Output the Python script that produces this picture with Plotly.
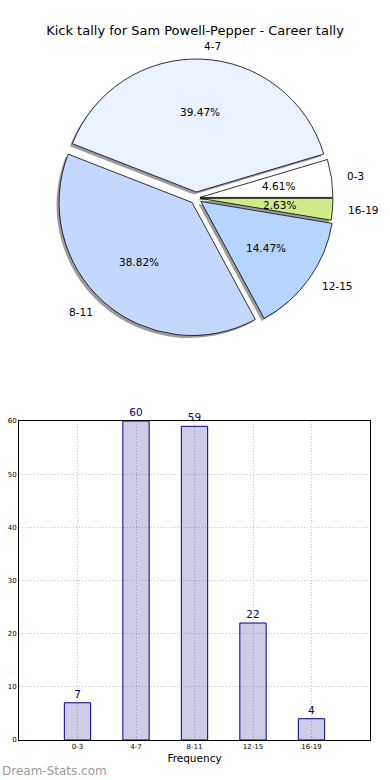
import math
import plotly.graph_objects as go

categories = ["0-3", "4-7", "8-11", "12-15", "16-19"]
counts = [7, 60, 59, 22, 4]
pie_colors = ["#FFFFFF", "#EBF2FF", "#C4D7FF", "#B5D5FF", "#CFEB8A"]
pulls = [0.03, 0.045, 0.045, 0.045, 0.03]
title_text = "Kick tally for Sam Powell-Pepper - Career tally"
y_ticks = [0, 10, 20, 30, 40, 50, 60]

W, H = 390, 780
cx, cy, R = 196, 198, 133
max_pull = max(pulls)
half = R * (1 + max_pull)


def dom(cxp, cyp, h):
    return dict(x=[(cxp - h) / W, (cxp + h) / W], y=[1 - (cyp + h) / H, 1 - (cyp - h) / H])


total = sum(counts)
first_angle = 360.0 * counts[0] / total
font = "DejaVu Sans"
fig = go.Figure()

# shadow
fig.add_trace(go.Pie(
    labels=categories, values=counts, sort=False, direction="counterclockwise",
    rotation=90 - first_angle,
    pull=pulls, domain=dom(cx - 2.5, cy + 2.5, half),
    marker=dict(colors=["rgba(90,90,90,0.6)"] * 5, line=dict(width=0)),
    textinfo="none", hoverinfo="skip", showlegend=False,
))
# main pie
fig.add_trace(go.Pie(
    labels=categories, values=counts, sort=False, direction="counterclockwise",
    rotation=90 - first_angle,
    pull=pulls, domain=dom(cx, cy, half),
    marker=dict(colors=pie_colors, line=dict(color="black", width=0.8)),
    textinfo="none", showlegend=False,
))

# text positions (matplotlib style: pct at 0.6r, labels at 1.1r, shifted by explode)
annots = []
acc = 0.0
for c, v, p in zip(categories, counts, pulls):
    mid = math.radians(360.0 * (acc + v / 2) / total)
    acc += v
    ox, oy = p * math.cos(mid), p * math.sin(mid)
    annots.append(dict(
        x=ox + 0.6 * math.cos(mid), y=oy + 0.6 * math.sin(mid), xref="x2", yref="y2",
        text=f"{100.0 * v / total:.2f}%", showarrow=False, xanchor="center", yanchor="middle",
        font=dict(family=font, size=10.5, color="black")))
    annots.append(dict(
        x=ox + 1.1 * math.cos(mid), y=oy + 1.1 * math.sin(mid), xref="x2", yref="y2",
        text=c, showarrow=False, xanchor="left" if math.cos(mid) > 0 else "right",
        yanchor="middle", font=dict(family=font, size=10.5, color="black")))

annots.append(dict(text="Dream-Stats.com", x=0, y=1 - 771 / H, xref="paper", yref="paper",
                   xanchor="left", yanchor="middle", showarrow=False,
                   font=dict(family=font, size=12, color="#9a9a9a")))

# bar chart
fig.add_trace(go.Bar(
    x=list(range(len(categories))), y=counts, width=0.45,
    marker=dict(color="rgba(0,0,128,0.2)", line=dict(color="#000080", width=1)),
    text=[str(v) for v in counts], textposition="outside", cliponaxis=False,
    textfont=dict(family=font, size=10.5, color="#000080"),
    showlegend=False, xaxis="x", yaxis="y",
))

# overlay axes for pie texts: larger than pie domain, same scale
k = 1.35
pd = dom(cx, cy, half * k)
ext = (1 + max_pull) * k
grid_col = "#c4c4c4"
fig.update_layout(
    width=W, height=H, margin=dict(l=0, r=0, t=0, b=0, pad=0, autoexpand=False),
    paper_bgcolor="white", plot_bgcolor="white",
    font=dict(family=font, color="black"),
    title=dict(text=title_text, x=0.5, xanchor="center", y=1 - 30 / H, yanchor="middle",
               font=dict(family=font, size=13, color="black")),
    xaxis=dict(domain=[19 / W, 370 / W], range=[-1, 5], tickmode="array",
               tickvals=list(range(len(categories))), ticktext=categories,
               tickfont=dict(family=font, size=7), showgrid=True, gridcolor=grid_col,
               griddash="1px,2px", gridwidth=1, showline=True, linecolor="black", linewidth=1,
               mirror=True, ticks="", zeroline=False, automargin=False, layer="above traces",
               title=dict(text="Frequency", font=dict(family=font, size=10.5), standoff=4)),
    yaxis=dict(domain=[1 - 740 / H, 1 - 421 / H], range=[0, 60], tickmode="array",
               tickvals=y_ticks, tickfont=dict(family=font, size=7), showgrid=True,
               gridcolor=grid_col, griddash="1px,2px", gridwidth=1, showline=True,
               linecolor="black", linewidth=1, mirror=True, ticks="", zeroline=False,
               automargin=False, layer="above traces"),
    xaxis2=dict(domain=pd["x"], range=[-ext, ext], visible=False, fixedrange=True),
    yaxis2=dict(domain=pd["y"], range=[-ext, ext], visible=False, fixedrange=True),
    annotations=annots,
)

fig.write_html("out.html", config={"displayModeBar": False},
               post_script="document.body.style.margin='0';")
